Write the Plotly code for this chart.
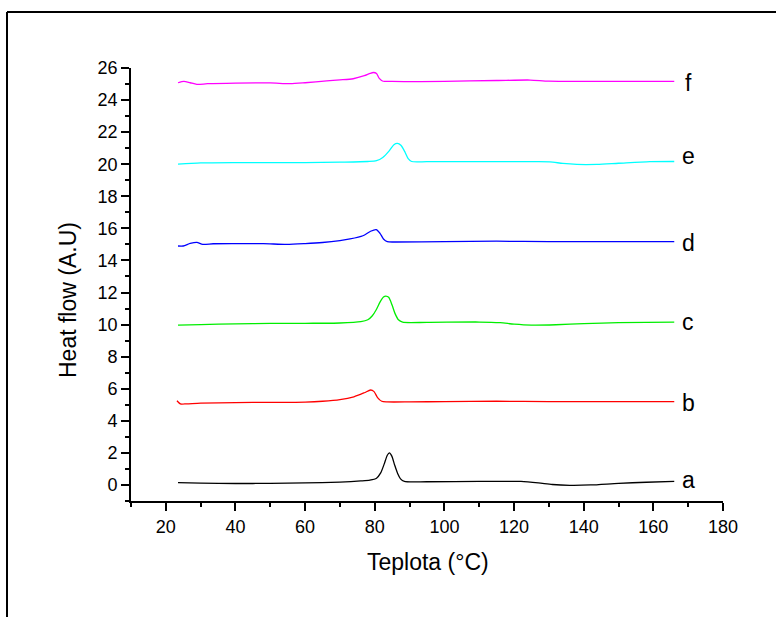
import plotly.graph_objects as go

# ---- data ----
a_x = [23.5, 30, 40, 50, 60, 70, 76, 78.6, 80.5, 81.7, 82.7, 83.6, 84.2, 84.9, 85.7, 86.6, 87.4, 88.5, 95, 110, 122, 127, 131, 136, 142, 150, 158, 166]
a_y = [0.14, 0.12, 0.09, 0.10, 0.13, 0.18, 0.25, 0.30, 0.42, 0.75, 1.3, 1.85, 2.0, 1.8, 1.25, 0.7, 0.38, 0.22, 0.20, 0.22, 0.22, 0.13, 0.03, -0.02, 0.0, 0.10, 0.17, 0.22]

b_x = [23.2, 24.2, 26, 30, 40, 50, 60, 65, 70, 74, 77, 78.8, 79.8, 80.8, 82.0, 83.5, 90, 100, 115, 130, 150, 166]
b_y = [5.25, 5.05, 5.06, 5.10, 5.14, 5.15, 5.17, 5.22, 5.32, 5.50, 5.75, 5.92, 5.82, 5.45, 5.22, 5.18, 5.18, 5.20, 5.22, 5.20, 5.20, 5.20]

c_x = [23.5, 30, 40, 50, 60, 70, 76, 78, 79.3, 80.5, 81.5, 82.5, 83.2, 84.0, 85.0, 85.8, 86.8, 88, 95, 110, 116, 120, 125, 132, 140, 150, 166]
c_y = [9.97, 10.00, 10.05, 10.07, 10.08, 10.10, 10.18, 10.30, 10.55, 10.96, 11.40, 11.72, 11.78, 11.70, 11.20, 10.70, 10.30, 10.15, 10.14, 10.16, 10.12, 10.03, 9.97, 9.99, 10.06, 10.12, 10.15]

d_x = [23.5, 25, 27, 28.9, 30.6, 33.6, 40, 48, 54.7, 60, 65, 70, 72.9, 76.6, 78.8, 80.4, 81.5, 82.5, 83.6, 86, 100, 115, 130, 150, 166]
d_y = [14.90, 14.90, 15.06, 15.13, 15.00, 15.04, 15.05, 15.05, 15.00, 15.05, 15.12, 15.24, 15.34, 15.54, 15.82, 15.92, 15.69, 15.34, 15.17, 15.15, 15.17, 15.20, 15.17, 15.17, 15.17]

e_x = [23.5, 30, 40, 50, 60, 70, 78, 80.5, 82.3, 84.2, 85.5, 86.5, 87.5, 88.7, 89.6, 90.6, 95, 110, 125, 130.3, 134, 138, 143.8, 150, 159, 166]
e_y = [20.01, 20.08, 20.10, 20.10, 20.10, 20.13, 20.17, 20.22, 20.42, 20.85, 21.22, 21.30, 21.18, 20.75, 20.35, 20.17, 20.16, 20.16, 20.16, 20.15, 20.05, 19.99, 19.99, 20.06, 20.16, 20.17]

f_x = [23.5, 25.2, 27, 28.9, 32, 40, 50, 55.7, 60, 66.2, 70, 73.8, 77, 78.7, 79.6, 80.5, 81.3, 82.2, 85, 100, 115, 124.6, 130, 145, 166]
f_y = [25.08, 25.17, 25.08, 24.98, 25.02, 25.06, 25.07, 25.02, 25.08, 25.20, 25.26, 25.33, 25.52, 25.67, 25.72, 25.66, 25.35, 25.19, 25.16, 25.17, 25.22, 25.25, 25.18, 25.17, 25.17]

series = [
    ("a", a_x, a_y, "#000000", 0.31),
    ("b", b_x, b_y, "#FF0000", 5.11),
    ("c", c_x, c_y, "#00EE00", 10.16),
    ("d", d_x, d_y, "#0000FF", 15.09),
    ("e", e_x, e_y, "#00FFFF", 20.51),
    ("f", f_x, f_y, "#FF00FF", 25.06),
]
label_x = 170

y_ticks = list(range(0, 27, 2))

fig = go.Figure()
for name, xs, ys, col, ly in series:
    fig.add_trace(go.Scatter(x=xs, y=ys, mode="lines", name=name,
                             line=dict(color=col, width=1.3, shape="spline", smoothing=0.7),
                             showlegend=False, hoverinfo="skip"))
    fig.add_annotation(x=label_x, y=ly, xref="x", yref="y", text=name, showarrow=False,
                       xanchor="center", yanchor="middle",
                       font=dict(family="Liberation Sans, Arial", size=23, color="black"))

L, R, T, B = 131, 723, 68, 501
W, H = 776, 617
pw, ph = R - L, B - T

def px(xp):
    return (xp - L) / pw

def py(yp):
    return (B - yp) / ph

fig.update_layout(
    width=W, height=H,
    margin=dict(l=L, r=W - R, t=T, b=H - B, pad=0),
    paper_bgcolor="white", plot_bgcolor="white",
    font=dict(family="Liberation Sans, Arial", size=18, color="black"),
    xaxis=dict(range=[10, 180], tick0=0, dtick=20, ticks="outside", ticklen=8, tickwidth=1.6,
               tickcolor="black", showline=True, linecolor="black", linewidth=1.8,
               showgrid=False, zeroline=False, tickfont=dict(size=18),
               minor=dict(tick0=10, dtick=10, ticks="outside", ticklen=4, tickwidth=1.6, tickcolor="black", showgrid=False)),
    yaxis=dict(range=[-1, 26], tickvals=y_ticks, ticks="outside", ticklen=8, tickwidth=1.6,
               tickcolor="black", showline=True, linecolor="black", linewidth=1.8,
               showgrid=False, zeroline=False, tickfont=dict(size=18),
               minor=dict(tick0=1, dtick=2, ticks="outside", ticklen=4, tickwidth=1.6, tickcolor="black", showgrid=False)),
)

# axis titles
fig.add_annotation(x=px(428), y=py(562), xref="paper", yref="paper", text="Teplota (°C)",
                   showarrow=False, xanchor="center", yanchor="middle",
                   font=dict(family="Liberation Sans, Arial", size=23, color="black"))
fig.add_annotation(x=px(68), y=py(300), xref="paper", yref="paper", text="Heat flow (A.U)",
                   showarrow=False, xanchor="center", yanchor="middle", textangle=-90,
                   font=dict(family="Liberation Sans, Arial", size=23, color="black"))

# outer frame (left and top edges visible)
fig.add_shape(type="line", xref="paper", yref="paper", x0=px(7), y0=py(640), x1=px(7), y1=py(12),
              line=dict(color="black", width=2))
fig.add_shape(type="line", xref="paper", yref="paper", x0=px(7), y0=py(12), x1=px(800), y1=py(12),
              line=dict(color="black", width=2))

fig.write_html("out.html")
